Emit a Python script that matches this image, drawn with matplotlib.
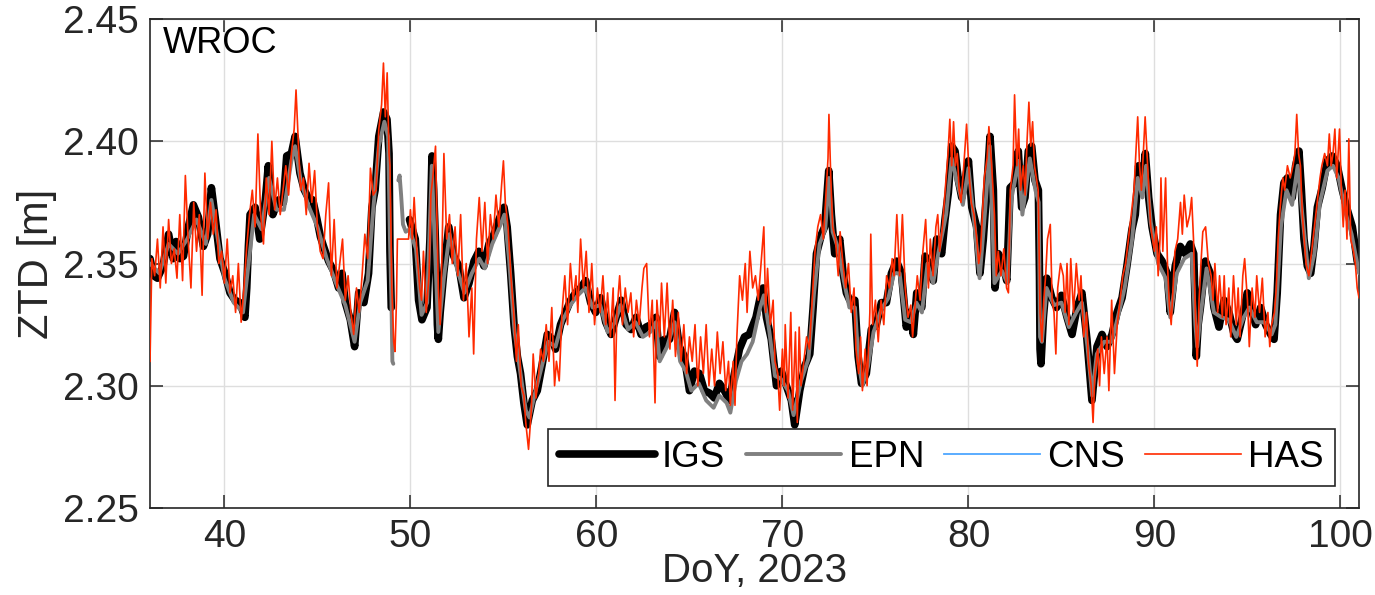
import numpy as np
import matplotlib
matplotlib.use("Agg")
import matplotlib.pyplot as plt

plt.rcParams['font.family'] = ['Liberation Sans', 'DejaVu Sans']

station = "WROC"
series_names = ["IGS", "EPN", "CNS", "HAS"]
xticks = [40, 50, 60, 70, 80, 90, 100]
yticks = [2.25, 2.30, 2.35, 2.40, 2.45]

igs_doy = [36.0, 36.2, 36.4, 36.7, 37.0, 37.25, 37.4, 37.6, 37.8, 38.06, 38.33, 38.6, 38.87, 39.1, 39.3,
           39.5, 39.76, 40.03, 40.3, 40.57, 40.84, 41.1, 41.2, 41.29, 41.38, 41.65, 41.9, 42.2, 42.36, 42.6,
           42.9, 43.17, 43.35, 43.6, 43.8, 44.06, 44.3, 44.5, 44.75, 44.98, 45.16, 45.33, 45.6, 45.87, 46.14,
           46.32, 46.5, 46.77, 47.0, 47.22, 47.5, 47.75, 47.93, 48.1, 48.3, 48.56, 48.74, 48.85, 48.9, 48.97,
           49.5,
           49.95, 50.26, 50.44, 50.62, 50.89, 51.05, 51.16, 51.25, 51.34, 51.45, 51.5, 51.6, 51.79, 52.06,
           52.33, 52.6, 52.88, 53.15, 53.42, 53.68, 53.95, 54.22, 54.49, 54.76, 55.03, 55.2, 55.39, 55.57,
           55.75, 55.92, 56.1, 56.28, 56.55, 56.82, 57.09, 57.36, 57.63, 57.8, 58.07, 58.34, 58.61, 58.88,
           59.15, 59.42, 59.69, 59.96, 60.23, 60.5, 60.79, 61.06, 61.33, 61.6, 61.86, 62.13, 62.4, 62.67,
           62.94, 63.2, 63.39, 63.66, 63.93, 64.2, 64.46, 64.73, 65.0, 65.27, 65.54, 65.8, 66.08, 66.34,
           66.61, 66.88, 67.15, 67.42, 67.69, 67.96, 68.22, 68.58, 68.8, 68.96, 69.14, 69.4, 69.68, 69.94,
           70.21, 70.48, 70.66, 70.93, 71.2, 71.47, 71.65, 71.83, 72.1, 72.27, 72.49, 72.63, 72.81, 73.08,
           73.26, 73.44, 73.62, 73.89, 74.07, 74.25, 74.51, 74.78, 75.05, 75.32, 75.59, 75.86, 76.13, 76.4,
           76.66, 76.84, 77.04, 77.22, 77.49, 77.67, 77.94, 78.11, 78.29, 78.56, 78.74, 78.92, 79.1, 79.28,
           79.46, 79.64, 79.82, 80.0, 80.18, 80.44, 80.62, 80.8, 80.98, 81.16, 81.34, 81.43, 81.61, 81.88,
           82.06, 82.24, 82.5, 82.68, 82.86, 83.04, 83.22, 83.4, 83.58, 83.76, 83.82, 83.85, 83.9, 84.03,
           84.21, 84.48, 84.74, 85.0, 85.3, 85.57, 85.84, 86.1, 86.37, 86.64, 86.91, 87.18, 87.45, 87.72,
           87.99, 88.26, 88.52, 88.79, 88.97, 89.15, 89.33, 89.51, 89.69, 89.87, 90.14, 90.41, 90.68, 90.85,
           91.12, 91.39, 91.66, 91.93, 92.11, 92.2, 92.25, 92.35, 92.47, 92.74, 93.0, 93.2, 93.47, 93.74,
           94.01, 94.28, 94.45, 94.72, 94.99, 95.26, 95.44, 95.71, 95.98, 96.25, 96.43, 96.6, 96.78, 96.96,
           97.14, 97.41, 97.59, 97.77, 97.9, 98.04, 98.22, 98.4, 98.58, 98.76, 99.02, 99.29, 99.56, 99.83,
           100.1, 100.37, 100.64, 100.9, 101.0]
igs_ztd = [2.352, 2.345, 2.344, 2.349, 2.362, 2.352, 2.359, 2.352, 2.353, 2.365, 2.374, 2.369, 2.357, 2.362, 2.381,
           2.369, 2.352, 2.346, 2.338, 2.335, 2.334, 2.328, 2.340, 2.357, 2.370, 2.373, 2.360, 2.376, 2.390, 2.370,
           2.376, 2.375, 2.394, 2.395, 2.402, 2.387, 2.380, 2.377, 2.376, 2.368, 2.361, 2.357, 2.351, 2.347, 2.340,
           2.346, 2.334, 2.327, 2.316, 2.338, 2.334, 2.346, 2.373, 2.380, 2.402, 2.412, 2.409, 2.395, 2.355, 2.332,
           np.nan,
           2.368, 2.360, 2.335, 2.327, 2.332, 2.360, 2.394, 2.380, 2.360, 2.325, 2.319, 2.330, 2.346, 2.365,
           2.353, 2.349, 2.336, 2.342, 2.351, 2.355, 2.349, 2.358, 2.362, 2.368, 2.373, 2.365, 2.346, 2.325,
           2.312, 2.305, 2.293, 2.284, 2.294, 2.298, 2.309, 2.321, 2.319, 2.315, 2.325, 2.330, 2.335, 2.338,
           2.340, 2.343, 2.334, 2.330, 2.336, 2.326, 2.321, 2.328, 2.335, 2.325, 2.323, 2.328, 2.321, 2.324,
           2.325, 2.328, 2.312, 2.319, 2.319, 2.330, 2.316, 2.312, 2.298, 2.306, 2.305, 2.298, 2.297, 2.295,
           2.301, 2.298, 2.294, 2.305, 2.315, 2.320, 2.321, 2.328, 2.336, 2.340, 2.328, 2.319, 2.300, 2.306,
           2.300, 2.294, 2.284, 2.298, 2.308, 2.313, 2.332, 2.354, 2.362, 2.365, 2.388, 2.370, 2.354, 2.360,
           2.346, 2.338, 2.335, 2.335, 2.312, 2.301, 2.305, 2.323, 2.325, 2.334, 2.334, 2.346, 2.351, 2.346,
           2.324, 2.330, 2.321, 2.338, 2.332, 2.353, 2.349, 2.343, 2.360, 2.354, 2.368, 2.379, 2.398, 2.396,
           2.384, 2.377, 2.384, 2.392, 2.373, 2.365, 2.346, 2.360, 2.380, 2.402, 2.380, 2.340, 2.354, 2.349,
           2.343, 2.381, 2.383, 2.396, 2.373, 2.377, 2.396, 2.398, 2.384, 2.380, 2.345, 2.315, 2.309, 2.328,
           2.344, 2.336, 2.332, 2.337, 2.328, 2.321, 2.332, 2.338, 2.319, 2.294, 2.316, 2.321, 2.316, 2.321,
           2.330, 2.336, 2.349, 2.364, 2.370, 2.390, 2.380, 2.395, 2.377, 2.365, 2.354, 2.351, 2.346, 2.330,
           2.349, 2.357, 2.354, 2.358, 2.354, 2.330, 2.312, 2.325, 2.332, 2.351, 2.346, 2.332, 2.324, 2.335,
           2.330, 2.321, 2.319, 2.328, 2.338, 2.330, 2.325, 2.332, 2.325, 2.321, 2.319, 2.338, 2.370, 2.383,
           2.385, 2.377, 2.390, 2.396, 2.380, 2.360, 2.349, 2.346, 2.357, 2.373, 2.381, 2.392, 2.394, 2.390,
           2.380, 2.372, 2.365, 2.351, 2.349]

epn_doy = [36.0, 36.5, 37.0, 37.5, 38.0, 38.5, 39.0, 39.3, 39.6, 40.0, 40.5, 41.0, 41.3, 41.6, 42.0, 42.4,
           42.8, 43.2, 43.6, 43.8, 44.1, 44.5, 45.0, 45.5, 46.0, 46.5, 47.0, 47.3, 47.7, 48.0, 48.3, 48.6,
           48.8, 48.9, 48.98, 49.03, 49.08, 49.2, 49.35, 49.42, 49.5, 49.6, 49.75, 49.95, 50.3, 50.6, 50.9,
           51.15, 51.3, 51.5, 51.8, 52.1, 52.5, 52.9, 53.3, 53.7, 54.0, 54.4, 54.8, 55.05, 55.3, 55.6, 55.9,
           56.2, 56.4, 56.7, 57.0, 57.4, 57.8, 58.2, 58.6, 59.0, 59.4, 59.8, 60.2, 60.6, 61.0, 61.3, 61.7,
           62.1, 62.5, 62.9, 63.2, 63.4, 63.8, 64.2, 64.5, 64.8, 65.1, 65.5, 65.9, 66.3, 66.6, 67.0, 67.2,
           67.5, 67.8, 68.1, 68.4, 68.8, 69.0, 69.3, 69.6, 69.9, 70.3, 70.6, 71.0, 71.4, 71.7, 72.0, 72.3,
           72.5, 72.7, 73.0, 73.3, 73.6, 73.9, 74.1, 74.3, 74.6, 74.9, 75.3, 75.7, 76.0, 76.3, 76.6, 76.9,
           77.2, 77.5, 77.8, 78.1, 78.4, 78.8, 79.1, 79.4, 79.7, 80.0, 80.3, 80.6, 80.9, 81.15, 81.4, 81.8,
           82.1, 82.3, 82.7, 82.9, 83.3, 83.6, 83.78, 83.85, 83.95, 84.2, 84.6, 85.0, 85.4, 85.8, 86.1, 86.4,
           86.65, 86.9, 87.3, 87.7, 88.0, 88.4, 88.8, 89.1, 89.35, 89.55, 89.8, 90.2, 90.6, 90.85, 91.2,
           91.6, 92.0, 92.2, 92.3, 92.5, 92.8, 93.2, 93.6, 94.0, 94.4, 94.8, 95.1, 95.5, 95.9, 96.3, 96.5,
           96.8, 97.1, 97.4, 97.7, 97.95, 98.3, 98.6, 98.9, 99.3, 99.6, 99.9, 100.3, 100.6, 101.0]
epn_ztd = [2.350, 2.346, 2.358, 2.354, 2.360, 2.368, 2.358, 2.376, 2.362, 2.344, 2.334, 2.330, 2.350, 2.370, 2.364, 2.385,
           2.372, 2.372, 2.392, 2.398, 2.384, 2.374, 2.365, 2.352, 2.342, 2.333, 2.318, 2.334, 2.343, 2.372, 2.398, 2.408,
           2.402, 2.360, 2.335, 2.310, 2.309, np.nan, 2.384, 2.386, 2.378, 2.366, 2.363, 2.364, 2.356, 2.329, 2.334,
           2.390, 2.360, 2.322, 2.344, 2.362, 2.348, 2.338, 2.346, 2.352, 2.348, 2.358, 2.365, 2.370, 2.352, 2.322, 2.306,
           2.290, 2.287, 2.297, 2.306, 2.318, 2.316, 2.327, 2.333, 2.337, 2.340, 2.332, 2.333, 2.322, 2.326, 2.333, 2.323,
           2.326, 2.320, 2.322, 2.326, 2.310, 2.316, 2.326, 2.310, 2.306, 2.298, 2.301, 2.294, 2.291, 2.296, 2.293, 2.289,
           2.302, 2.310, 2.313, 2.318, 2.332, 2.337, 2.322, 2.304, 2.303, 2.298, 2.288, 2.302, 2.311, 2.338, 2.358, 2.364,
           2.385, 2.363, 2.356, 2.343, 2.332, 2.332, 2.309, 2.300, 2.308, 2.322, 2.331, 2.336, 2.346, 2.346, 2.327, 2.326,
           2.334, 2.330, 2.350, 2.342, 2.355, 2.370, 2.393, 2.383, 2.374, 2.389, 2.368, 2.344, 2.372, 2.398, 2.342, 2.347,
           2.342, 2.376, 2.392, 2.370, 2.393, 2.380, 2.375, 2.320, 2.318, 2.340, 2.333, 2.334, 2.324, 2.330, 2.334, 2.316,
           2.296, 2.313, 2.318, 2.318, 2.327, 2.340, 2.360, 2.385, 2.377, 2.390, 2.367, 2.350, 2.344, 2.328, 2.346,
           2.352, 2.354, 2.325, 2.316, 2.330, 2.348, 2.330, 2.328, 2.327, 2.320, 2.328, 2.332, 2.326, 2.326, 2.321, 2.325,
           2.365, 2.380, 2.374, 2.390, 2.370, 2.344, 2.354, 2.375, 2.388, 2.390, 2.385, 2.370, 2.362, 2.346]

cns_doy = []
cns_ztd = []

has_doy = [36.0, 36.1, 36.25, 36.4, 36.55, 36.7, 36.85, 37.0, 37.15, 37.3, 37.45, 37.6, 37.75, 37.9, 38.05,
           38.2, 38.35, 38.5, 38.65, 38.8, 38.95, 39.1, 39.25, 39.4, 39.55, 39.7, 39.85, 40.0, 40.15, 40.3,
           40.45, 40.6, 40.75, 40.9, 41.05, 41.2, 41.35, 41.5, 41.65, 41.8, 41.95, 42.1, 42.25, 42.4, 42.55,
           42.7, 42.85, 43.0, 43.15, 43.3, 43.45, 43.6, 43.75, 43.85, 44.0, 44.1, 44.25, 44.4, 44.55, 44.7,
           44.85, 45.0, 45.15, 45.3, 45.45, 45.6, 45.75, 45.9, 46.05, 46.2, 46.35, 46.5, 46.65, 46.8, 46.95,
           47.1, 47.25, 47.4, 47.55, 47.7, 47.85, 48.0, 48.15, 48.3, 48.45, 48.55, 48.65, 48.75, 48.85, 48.9,
           49.0, 49.1, 49.17, 49.25, 49.3, 49.9, 50.0, 50.1, 50.2, 50.35, 50.5, 50.6, 50.7, 50.85, 51.0,
           51.1, 51.2, 51.35, 51.5, 51.6, 51.7, 51.8, 51.95, 52.1, 52.25, 52.4, 52.55, 52.7, 52.85, 53.0,
           53.15, 53.3, 53.4, 53.55, 53.7, 53.85, 54.0, 54.15, 54.3, 54.45, 54.6, 54.75, 54.9, 55.0, 55.1,
           55.25, 55.4, 55.55, 55.7, 55.8, 55.95, 56.1, 56.2, 56.35, 56.5, 56.6, 56.75, 56.9, 57.0, 57.15,
           57.3, 57.45, 57.6, 57.75, 57.85, 58.0, 58.15, 58.3, 58.45, 58.6, 58.75, 58.9, 59.0, 59.15, 59.3,
           59.45, 59.6, 59.75, 59.9, 60.05, 60.2, 60.35, 60.5, 60.6, 60.75, 60.9, 61.0, 61.1, 61.25, 61.4,
           61.55, 61.7, 61.85, 62.0, 62.15, 62.3, 62.45, 62.55, 62.7, 62.85, 63.0, 63.15, 63.25, 63.4, 63.5,
           63.65, 63.8, 63.95, 64.1, 64.25, 64.4, 64.55, 64.7, 64.85, 65.0, 65.15, 65.3, 65.45, 65.6, 65.75,
           65.9, 66.05, 66.2, 66.35, 66.5, 66.65, 66.8, 66.95, 67.1, 67.2, 67.35, 67.45, 67.55, 67.7, 67.85,
           68.0, 68.1, 68.25, 68.4, 68.55, 68.7, 68.85, 69.0, 69.1, 69.2, 69.35, 69.5, 69.6, 69.75, 69.85,
           70.0, 70.1, 70.15, 70.3, 70.45, 70.55, 70.7, 70.8, 70.9, 71.0, 71.15, 71.3, 71.45, 71.6, 71.75,
           71.9, 72.05, 72.2, 72.35, 72.45, 72.5, 72.6, 72.7, 72.85, 73.0, 73.1, 73.25, 73.4, 73.55, 73.7,
           73.85, 73.95, 74.1, 74.2, 74.3, 74.45, 74.55, 74.7, 74.75, 74.85, 75.0, 75.15, 75.3, 75.45, 75.6,
           75.75, 75.9, 76.0, 76.15, 76.3, 76.45, 76.6, 76.75, 76.9, 77.0, 77.1, 77.25, 77.4, 77.55, 77.7,
           77.85, 77.95, 78.1, 78.25, 78.35, 78.45, 78.6, 78.75, 78.9, 79.0, 79.1, 79.2, 79.3, 79.4, 79.5,
           79.6, 79.75, 79.9, 80.05, 80.15, 80.3, 80.45, 80.55, 80.65, 80.75, 80.85, 81.0, 81.1, 81.25, 81.4,
           81.5, 81.6, 81.75, 81.9, 82.05, 82.15, 82.25, 82.4, 82.48, 82.6, 82.7, 82.8, 82.95, 83.05, 83.15,
           83.25, 83.35, 83.45, 83.55, 83.65, 83.75, 83.85, 83.95, 84.05, 84.15, 84.25, 84.4, 84.5, 84.6, 84.7,
           84.8, 84.95, 85.1, 85.2, 85.3, 85.4, 85.5, 85.65, 85.8, 85.95, 86.05, 86.2, 86.35, 86.45, 86.6,
           86.7, 86.8, 86.95, 87.05, 87.15, 87.3, 87.45, 87.55, 87.7, 87.85, 88.0, 88.15, 88.3, 88.45, 88.6,
           88.75, 88.9, 89.0, 89.1, 89.2, 89.3, 89.4, 89.5, 89.6, 89.7, 89.8, 89.9, 90.0, 90.1, 90.2,
           90.3, 90.35, 90.45, 90.6, 90.7, 90.8, 90.9, 91.0, 91.1, 91.25, 91.4, 91.5, 91.6, 91.75, 91.9,
           92.0, 92.1, 92.2, 92.3, 92.4, 92.5, 92.6, 92.75, 92.9, 93.05, 93.15, 93.25, 93.4, 93.5, 93.65,
           93.75, 93.85, 94.0, 94.1, 94.25, 94.4, 94.5, 94.6, 94.75, 94.85, 95.0, 95.1, 95.25, 95.4, 95.5,
           95.65, 95.8, 95.95, 96.1, 96.2, 96.3, 96.45, 96.55, 96.65, 96.75, 96.9, 97.0, 97.15, 97.3, 97.45,
           97.55, 97.65, 97.75, 97.85, 97.95, 98.05, 98.15, 98.3, 98.45, 98.6, 98.75, 98.9, 99.0, 99.15, 99.3,
           99.4, 99.5, 99.6, 99.7, 99.8, 99.95, 100.05, 100.15, 100.25, 100.35, 100.45, 100.55, 100.7, 100.8, 100.9,
           101.0]
has_ztd = [2.310, 2.352, 2.345, 2.360, 2.340, 2.365, 2.342, 2.368, 2.350, 2.356, 2.344, 2.370, 2.343, 2.386, 2.360,
           2.340, 2.375, 2.355, 2.370, 2.337, 2.387, 2.360, 2.375, 2.362, 2.372, 2.350, 2.355, 2.342, 2.360, 2.338,
           2.345, 2.330, 2.350, 2.326, 2.340, 2.357, 2.370, 2.380, 2.365, 2.403, 2.370, 2.358, 2.385, 2.370, 2.400,
           2.372, 2.385, 2.370, 2.380, 2.390, 2.378, 2.395, 2.405, 2.421, 2.395, 2.380, 2.385, 2.370, 2.391, 2.375,
           2.388, 2.365, 2.355, 2.352, 2.370, 2.383, 2.345, 2.368, 2.340, 2.350, 2.360, 2.335, 2.345, 2.330, 2.321,
           2.340, 2.330, 2.345, 2.362, 2.352, 2.389, 2.378, 2.380, 2.405, 2.415, 2.432, 2.410, 2.428, 2.395, 2.390,
           2.340, 2.318, 2.314, 2.335, 2.360, 2.360, 2.372, 2.360, 2.377, 2.355, 2.340, 2.335, 2.355, 2.330, 2.345,
           2.378, 2.385, 2.398, 2.340, 2.325, 2.355, 2.395, 2.360, 2.370, 2.350, 2.365, 2.345, 2.370, 2.335, 2.350,
           2.320, 2.340, 2.313, 2.360, 2.377, 2.355, 2.375, 2.350, 2.370, 2.360, 2.378, 2.365, 2.382, 2.392, 2.375,
           2.365, 2.345, 2.330, 2.310, 2.325, 2.300, 2.296, 2.285, 2.274, 2.290, 2.313, 2.295, 2.305, 2.315, 2.310,
           2.325, 2.310, 2.332, 2.300, 2.310, 2.302, 2.330, 2.345, 2.325, 2.350, 2.335, 2.345, 2.330, 2.360, 2.340,
           2.355, 2.330, 2.350, 2.325, 2.340, 2.330, 2.345, 2.325, 2.338, 2.320, 2.340, 2.294, 2.330, 2.345, 2.325,
           2.340, 2.330, 2.338, 2.320, 2.335, 2.325, 2.340, 2.348, 2.350, 2.320, 2.335, 2.293, 2.335, 2.320, 2.342,
           2.320, 2.342, 2.315, 2.335, 2.312, 2.330, 2.310, 2.325, 2.305, 2.320, 2.310, 2.325, 2.300, 2.320, 2.305,
           2.325, 2.300, 2.315, 2.300, 2.322, 2.305, 2.318, 2.298, 2.310, 2.292, 2.310, 2.292, 2.320, 2.345, 2.335,
           2.350, 2.330, 2.355, 2.340, 2.345, 2.335, 2.350, 2.365, 2.330, 2.348, 2.325, 2.335, 2.310, 2.305, 2.290,
           2.315, 2.300, 2.325, 2.295, 2.330, 2.290, 2.322, 2.285, 2.324, 2.300, 2.310, 2.320, 2.315, 2.335, 2.355,
           2.365, 2.370, 2.360, 2.380, 2.393, 2.411, 2.385, 2.365, 2.360, 2.345, 2.363, 2.350, 2.340, 2.350, 2.330,
           2.340, 2.315, 2.305, 2.320, 2.298, 2.315, 2.300, 2.330, 2.362, 2.325, 2.335, 2.318, 2.335, 2.325, 2.345,
           2.340, 2.352, 2.345, 2.370, 2.345, 2.370, 2.340, 2.328, 2.333, 2.320, 2.330, 2.345, 2.335, 2.355, 2.368,
           2.340, 2.360, 2.345, 2.365, 2.370, 2.355, 2.365, 2.380, 2.395, 2.409, 2.390, 2.408, 2.390, 2.395, 2.380,
           2.375, 2.390, 2.407, 2.385, 2.375, 2.370, 2.360, 2.350, 2.355, 2.370, 2.385, 2.393, 2.406, 2.390, 2.370,
           2.345, 2.355, 2.345, 2.356, 2.340, 2.338, 2.380, 2.390, 2.419, 2.390, 2.405, 2.380, 2.390, 2.378, 2.400,
           2.416, 2.398, 2.408, 2.390, 2.385, 2.380, 2.330, 2.318, 2.335, 2.345, 2.360, 2.366, 2.335, 2.330, 2.313,
           2.340, 2.350, 2.345, 2.330, 2.350, 2.325, 2.352, 2.330, 2.350, 2.335, 2.345, 2.320, 2.330, 2.310, 2.300,
           2.285, 2.305, 2.315, 2.300, 2.320, 2.305, 2.320, 2.298, 2.335, 2.305, 2.325, 2.335, 2.345, 2.350, 2.360,
           2.370, 2.380, 2.395, 2.410, 2.390, 2.380, 2.395, 2.410, 2.395, 2.380, 2.365, 2.360, 2.355, 2.365, 2.345,
           2.360, 2.385, 2.355, 2.385, 2.350, 2.333, 2.325, 2.340, 2.355, 2.360, 2.375, 2.362, 2.378, 2.365, 2.370,
           2.377, 2.360, 2.330, 2.308, 2.335, 2.350, 2.363, 2.365, 2.350, 2.345, 2.335, 2.350, 2.330, 2.345, 2.328,
           2.345, 2.325, 2.340, 2.320, 2.345, 2.325, 2.340, 2.320, 2.345, 2.352, 2.335, 2.316, 2.340, 2.328, 2.345,
           2.330, 2.344, 2.320, 2.330, 2.316, 2.325, 2.330, 2.340, 2.360, 2.372, 2.385, 2.380, 2.390, 2.385, 2.390,
           2.395, 2.411, 2.395, 2.390, 2.370, 2.360, 2.350, 2.345, 2.355, 2.365, 2.375, 2.385, 2.390, 2.395, 2.390,
           2.403, 2.390, 2.395, 2.405, 2.385, 2.405, 2.380, 2.365, 2.380, 2.360, 2.401, 2.360, 2.355, 2.350, 2.340,
           2.336]

fig = plt.figure(figsize=(13.75, 5.95), dpi=100)
ax = fig.add_axes([0.1091, 0.1462, 0.8793, 0.8218])

dark = '#262626'
ax.plot(igs_doy, igs_ztd, color='black', lw=5.5, solid_capstyle='round', solid_joinstyle='round',
        label=series_names[0], zorder=2)
ax.plot(epn_doy, epn_ztd, color='#808080', lw=2.8, solid_capstyle='round', solid_joinstyle='round',
        label=series_names[1], zorder=3)
ax.plot(cns_doy, cns_ztd, color='#4da6ff', lw=1.3, label=series_names[2], zorder=4)
ax.plot(has_doy, has_ztd, color='#ff2a00', lw=1.2, label=series_names[3], zorder=5)

ax.set_xlim(36, 101)
ax.set_ylim(2.25, 2.45)
ax.set_xticks(xticks)
ax.set_yticks(yticks)
ax.set_yticklabels([f"{v:.2f}" for v in yticks])
ax.grid(True, color='#dedede', lw=1.0)
ax.set_axisbelow(True)
ax.tick_params(direction='in', length=9.5, width=1.1, top=True, right=True, colors=dark,
               labelsize=28, labelcolor=dark)
ax.tick_params(axis='x', pad=8)
ax.tick_params(axis='y', pad=8)
for s in ax.spines.values():
    s.set_color(dark)
    s.set_linewidth(1.2)

ax.set_xlabel("DoY, 2023", fontsize=29, color=dark, labelpad=-2)
ax.set_ylabel("ZTD [m]", fontsize=30, color=dark, labelpad=4)
ax.text(0.011, 0.985, station, transform=ax.transAxes, fontsize=26, va='top', ha='left', color='black')

leg = ax.legend(loc='lower right', bbox_to_anchor=(0.98, 0.045), ncol=4, fontsize=26.5,
                handlelength=2.6, handletextpad=0.2, columnspacing=0.55, borderpad=0.3,
                borderaxespad=0.0, fancybox=False, framealpha=1.0)
leg.get_frame().set_edgecolor(dark)
leg.get_frame().set_linewidth(1.2)
for t in leg.get_texts():
    t.set_color('black')

fig.savefig("out.png", dpi=100, facecolor='white')
